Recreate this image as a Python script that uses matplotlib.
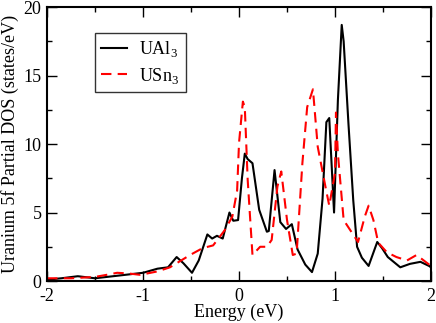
import matplotlib
matplotlib.use('Agg')
import matplotlib.pyplot as plt
from matplotlib.ticker import MultipleLocator

# UAl3 5f partial DOS
e_ual3 = [-2.0, -1.85, -1.68, -1.5, -1.25, -1.0, -0.85, -0.74, -0.65, -0.58, -0.49,
          -0.42, -0.33, -0.28, -0.23, -0.17, -0.10, -0.06, -0.01, 0.03, 0.06, 0.09,
          0.14, 0.21, 0.29, 0.31, 0.37, 0.43, 0.49, 0.55, 0.61, 0.69, 0.76, 0.82,
          0.87, 0.91, 0.94, 0.99, 1.03, 1.07, 1.09, 1.14, 1.19, 1.23, 1.28, 1.35,
          1.44, 1.49, 1.55, 1.68, 1.78, 1.89, 1.98, 2.0]
dos_ual3 = [0.1, 0.2, 0.35, 0.2, 0.4, 0.6, 0.9, 1.0, 1.75, 1.3, 0.6,
            1.5, 3.4, 3.1, 3.3, 3.1, 5.0, 4.4, 4.45, 7.5, 9.3, 8.9,
            8.6, 5.2, 3.6, 3.65, 8.1, 4.3, 3.8, 4.15, 2.3, 1.2, 0.65, 2.0,
            6.0, 11.6, 11.9, 5.0, 13.2, 18.7, 17.5, 11.5, 5.9, 2.5, 1.7, 1.1,
            2.85, 2.4, 1.75, 1.0, 1.25, 1.4, 1.1, 1.0]

# USn3 5f partial DOS
e_usn3 = [-2.0, -1.75, -1.5, -1.38, -1.27, -1.15, -1.03, -0.85, -0.72, -0.51,
          -0.38, -0.27, -0.15, -0.07, -0.02, 0.0, 0.04, 0.06, 0.09, 0.14, 0.22,
          0.29, 0.34, 0.40, 0.44, 0.50, 0.56, 0.60, 0.66, 0.71, 0.77, 0.82, 0.90,
          0.94, 1.0, 1.01, 1.03, 1.09, 1.16, 1.24, 1.31, 1.35, 1.40, 1.45, 1.54,
          1.64, 1.75, 1.85, 1.99, 2.0]
dos_usn3 = [0.2, 0.2, 0.3, 0.45, 0.6, 0.55, 0.45, 0.7, 1.0, 1.9,
            2.4, 2.6, 3.7, 4.7, 6.6, 10.1, 13.1, 12.7, 7.4, 1.9, 2.5,
            2.5, 3.0, 6.9, 8.0, 4.45, 1.9, 2.0, 8.6, 12.7, 14.0, 9.8, 6.9,
            5.5, 7.9, 12.3, 9.3, 4.45, 3.7, 2.85, 4.7, 5.5, 4.45, 2.8, 2.1,
            1.75, 1.5, 1.9, 1.15, 1.1]

plt.rcParams['font.family'] = ['Liberation Serif', 'DejaVu Serif']
plt.rcParams['mathtext.fontset'] = 'custom'
plt.rcParams['mathtext.rm'] = 'Liberation Serif'
plt.rcParams['axes.unicode_minus'] = False

fig = plt.figure(figsize=(4.36, 3.23), dpi=100)
ax = fig.add_axes([0.108, 0.130, 0.8805, 0.848])

ax.plot(e_ual3, dos_ual3, '-', color='black', linewidth=1.5, label='UAl$_3$')
ax.plot(e_usn3, dos_usn3, '--', color='red', linewidth=1.5, dashes=(5, 3),
        label='USn$_3$')

ax.set_xlim(-2, 2)
ax.set_ylim(0, 20)
ax.xaxis.set_major_locator(MultipleLocator(1))
ax.xaxis.set_minor_locator(MultipleLocator(0.5))
ax.yaxis.set_major_locator(MultipleLocator(5))
ax.yaxis.set_minor_locator(MultipleLocator(2.5))
ax.tick_params(which='both', direction='in', top=True, right=True, labelsize=13,
               width=1.0)
ax.tick_params(which='major', length=7)
ax.tick_params(which='minor', length=3.5)
ax.tick_params(axis='x', pad=5)
ax.tick_params(axis='y', pad=4)
for s in ax.spines.values():
    s.set_linewidth(1.5)

ax.set_xlabel('Energy (eV)', fontsize=13, labelpad=-1)
ax.set_ylabel('Uranium 5f Partial DOS (states/eV)', fontsize=13, labelpad=3)

leg = ax.legend(loc='upper left', bbox_to_anchor=(0.125, 0.905), fontsize=13,
                frameon=True, fancybox=False, edgecolor='black',
                borderaxespad=0, handlelength=1.4, handletextpad=0.7,
                borderpad=0.35, labelspacing=0.35)
leg.get_frame().set_linewidth(1.0)

fig.savefig('out.png', dpi=100)
